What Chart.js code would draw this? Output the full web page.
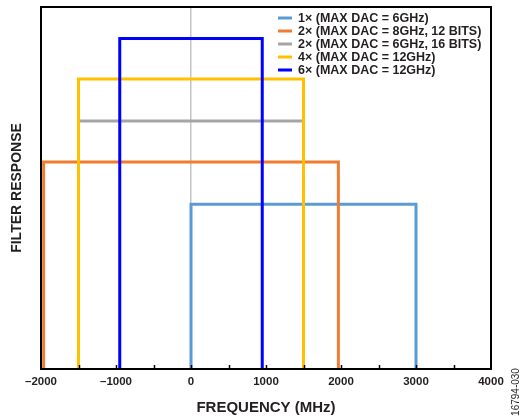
<!DOCTYPE html>
<html>
<head>
<meta charset="utf-8">
<script src="https://cdn.jsdelivr.net/npm/chart.js@4/dist/chart.umd.min.js"></script>
<style>
  html, body { margin: 0; padding: 0; background: #fff; }
  #wrap { width: 526px; height: 420px; position: relative; }
</style>
</head>
<body>
<div id="wrap"><canvas id="filterCanvas"></canvas></div>
<script>
// series, in legend order
var seriesNames = [
  '1× (MAX DAC = 6GHz)',
  '2× (MAX DAC = 8GHz, 12 BITS)',
  '2× (MAX DAC = 6GHz, 16 BITS)',
  '4× (MAX DAC = 12GHz)',
  '6× (MAX DAC = 12GHz)'
];
// passband edges in MHz and relative height of each filter box
var lowEdge = [0, -1965, -1500, -1500, -950];
var highEdge = [3000, 1965, 1500, 1500, 950];
var level = [0.455, 0.572, 0.685, 0.801, 0.913];
var colors = ['#5b9bd5', '#ed7d31', '#a5a5a5', '#ffc000', '#0000ff'];

// x axis ticks
var xMin = -2000, xMax = 4000, xStep = 1000, minorStep = 500;

var FONT = '"Liberation Sans", Arial, sans-serif';
var TEXT = '#231f20';

var datasets = seriesNames.map(function (name, i) {
  return {
    label: name,
    data: [
      { x: lowEdge[i], y: 0 },
      { x: lowEdge[i], y: level[i] },
      { x: highEdge[i], y: level[i] },
      { x: highEdge[i], y: 0 }
    ],
    borderColor: colors[i],
    backgroundColor: colors[i],
    borderWidth: 3,
    pointRadius: 0,
    showLine: true,
    fill: false,
    tension: 0,
    order: seriesNames.length - i
  };
});

// box border, inner minor ticks, legend and side note
var extras = {
  id: 'extras',
  afterDatasetsDraw: function (chart) {
    var ctx = chart.ctx;
    var a = chart.chartArea;
    var xs = chart.scales.x;
    ctx.save();

    // small ticks pointing up from the bottom axis
    ctx.strokeStyle = '#000';
    ctx.lineWidth = 1.5;
    for (var v = xMin + minorStep; v < xMax; v += minorStep) {
      var px = Math.round(xs.getPixelForValue(v)) + 0.5;
      ctx.beginPath();
      ctx.moveTo(px, a.bottom);
      ctx.lineTo(px, a.bottom - 4);
      ctx.stroke();
    }

    // frame
    ctx.lineWidth = 2;
    ctx.strokeRect(a.left, a.top, a.right - a.left, a.bottom - a.top);

    // legend
    ctx.font = 'bold 12.5px ' + FONT;
    ctx.textBaseline = 'middle';
    ctx.textAlign = 'left';
    seriesNames.forEach(function (name, i) {
      var y = 18 + i * 13;
      ctx.strokeStyle = colors[i];
      ctx.lineWidth = 3;
      ctx.beginPath();
      ctx.moveTo(278, y);
      ctx.lineTo(292, y);
      ctx.stroke();
      ctx.fillStyle = TEXT;
      ctx.fillText(name, 298, y + 0.5);
    });

    // figure number
    ctx.translate(516, 392);
    ctx.rotate(-Math.PI / 2);
    ctx.font = '10px ' + FONT;
    ctx.textAlign = 'center';
    ctx.fillStyle = TEXT;
    ctx.fillText('16794-030', 0, 0);
    ctx.restore();
  }
};

var ctx = document.getElementById('filterCanvas').getContext('2d');
var filterChart = new Chart(ctx, {
  type: 'scatter',
  data: { datasets: datasets },
  plugins: [extras],
  options: {
    responsive: true,
    maintainAspectRatio: false,
    animation: false,
    layout: { padding: { left: 0, right: 35, top: 7, bottom: 0 } },
    plugins: {
      legend: { display: false },
      tooltip: { enabled: false }
    },
    scales: {
      x: {
        type: 'linear',
        min: xMin,
        max: xMax,
        afterFit: function (s) { s.height = 51; },
        border: { display: false },
        grid: {
          drawTicks: false,
          lineWidth: 1.5,
          color: function (c) { return c.tick && c.tick.value === 0 ? '#c4c4c4' : 'rgba(0,0,0,0)'; }
        },
        ticks: {
          stepSize: xStep,
          padding: 6,
          color: TEXT,
          font: { family: FONT, size: 11.5, weight: 'bold' },
          callback: function (v) { return v < 0 ? '\u2013' + Math.abs(v) : String(v); }
        },
        title: {
          display: true,
          text: 'FREQUENCY (MHz)',
          color: TEXT,
          padding: { top: 0, bottom: 3 },
          font: { family: FONT, size: 15, weight: 'bold' }
        }
      },
      y: {
        min: 0,
        max: 1,
        afterFit: function (s) { s.width = 41; },
        border: { display: false },
        grid: { display: false },
        ticks: { display: false },
        title: {
          display: true,
          text: 'FILTER RESPONSE',
          color: TEXT,
          padding: { top: 9, bottom: 0 },
          font: { family: FONT, size: 14, weight: 'bold' }
        }
      }
    }
  }
});
</script>
</body>
</html>
